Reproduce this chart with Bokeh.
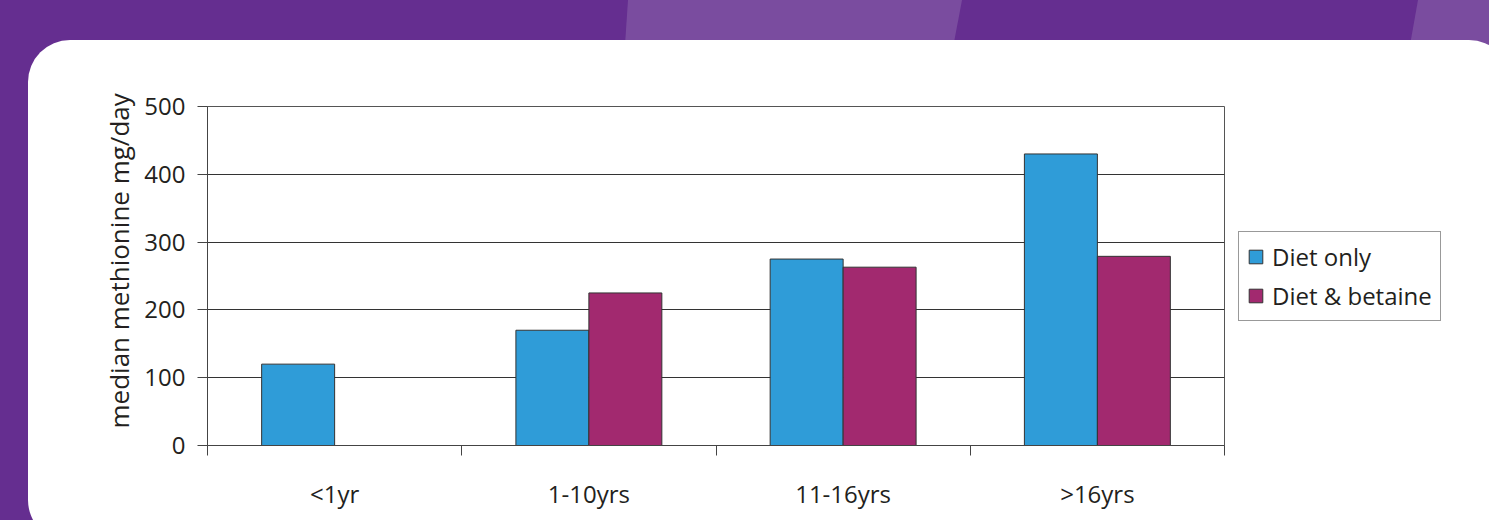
from bokeh.plotting import figure
from bokeh.models import (Range1d, FixedTicker, LinearAxis, Grid, Legend, LegendItem,
                          ColumnDataSource, Title)
from bokeh.embed import file_html
from bokeh.resources import INLINE

# Median daily methionine intake by age group
age_groups = ["<1yr", "1-10yrs", "11-16yrs", ">16yrs"]
diet_only = [120, 170, 275, 430]
diet_betaine = [None, 225, 263, 279]
y_ticks = [0, 100, 200, 300, 400, 500]

BLUE = "#2F9CD8"
MAGENTA = "#A2296F"
PURPLE = "#652E90"
PURPLE_LIGHT = "#7A4C9F"
INK = "#231F20"
FONT = "Open Sans"

W, H = 1489, 520
BAR_W = 0.287
n = len(age_groups)
centers = [i + 0.5 for i in range(n)]
bounds = [float(i) for i in range(n + 1)]

blue_src = ColumnDataSource(dict(
    x=[c - BAR_W / 2 for c in centers], top=diet_only))
red_idx = [i for i, v in enumerate(diet_betaine) if v is not None]
red_src = ColumnDataSource(dict(
    x=[centers[i] + BAR_W / 2 for i in red_idx],
    top=[diet_betaine[i] for i in red_idx]))

p = figure(width=W, height=H, frame_width=1017, frame_height=339,
           output_backend="svg", toolbar_location=None,
           x_range=Range1d(0, n), y_range=Range1d(0, 500),
           x_axis_type=None, y_axis_type=None,
           min_border_left=207, min_border_right=265,
           min_border_top=106, min_border_bottom=75)
p.border_fill_color = None
p.background_fill_color = "white"
p.outline_line_color = "#555555"
p.outline_line_width = 1

# page decoration behind the canvas: purple page, light stripes, white card
backdrop = (
    f"<svg xmlns='http://www.w3.org/2000/svg' width='{W}' height='{H}'>"
    f"<rect width='{W}' height='{H}' fill='{PURPLE}'/>"
    f"<polygon points='628,0 962,0 945,90 622,90' fill='{PURPLE_LIGHT}'/>"
    f"<polygon points='1418,0 1520,0 1520,90 1402,90' fill='{PURPLE_LIGHT}'/>"
    "<rect x='28' y='40' width='1483' height='502' rx='42' ry='42' fill='white'/>"
    "</svg>"
).replace("#", "%23")
p.styles = {
    "background-color": PURPLE,
    "background-image": f'url("data:image/svg+xml;utf8,{backdrop}")',
    "background-repeat": "no-repeat",
}

# axes
yaxis = LinearAxis(ticker=FixedTicker(ticks=y_ticks))
yaxis.major_tick_out = 10
yaxis.major_tick_in = 0
yaxis.minor_tick_out = 0
yaxis.minor_tick_in = 0
yaxis.major_label_standoff = 12
yaxis.major_label_text_font = FONT
yaxis.major_label_text_font_size = "24px"
yaxis.major_label_text_color = INK
yaxis.axis_line_color = "#444444"
yaxis.major_tick_line_color = "#444444"
p.add_layout(yaxis, "left")

# y-axis title, starting a little above the bottom of the frame
ytitle = Title(text="median methionine mg/day", align="left", offset=17, standoff=10)
ytitle.text_font = FONT
ytitle.text_font_size = "26px"
ytitle.text_font_style = "normal"
ytitle.text_color = INK
p.add_layout(ytitle, "left")

xaxis = LinearAxis(ticker=FixedTicker(ticks=centers, minor_ticks=bounds),
                   major_label_overrides={c: g for c, g in zip(centers, age_groups)})
xaxis.major_tick_out = 0
xaxis.major_tick_in = 0
xaxis.minor_tick_out = 10
xaxis.minor_tick_in = 0
xaxis.minor_tick_line_color = "#444444"
xaxis.axis_line_color = "#444444"
xaxis.major_label_standoff = 21
xaxis.major_label_text_font = FONT
xaxis.major_label_text_font_size = "24px"
xaxis.major_label_text_color = INK
p.add_layout(xaxis, "below")

p.add_layout(Grid(dimension=1, ticker=FixedTicker(ticks=y_ticks),
                  grid_line_color="#333333", grid_line_width=1))

# bars
r_blue = p.vbar(x="x", top="top", width=BAR_W, source=blue_src,
                fill_color=BLUE, line_color="#333333", line_width=1)
r_red = p.vbar(x="x", top="top", width=BAR_W, source=red_src,
               fill_color=MAGENTA, line_color="#333333", line_width=1)

legend = Legend(items=[LegendItem(label="Diet only", renderers=[r_blue]),
                       LegendItem(label="Diet & betaine", renderers=[r_red])],
                location="left", margin=14)
legend.label_text_font = FONT
legend.label_text_font_size = "24px"
legend.label_text_color = INK
legend.glyph_width = 17
legend.glyph_height = 17
legend.label_standoff = 8
legend.padding = 8
legend.spacing = 6
legend.border_line_color = "#333333"
legend.border_line_width = 1
legend.background_fill_color = "white"
legend.background_fill_alpha = 1
p.add_layout(legend, "right")

open("out.html", "w").write(file_html(p, INLINE))
